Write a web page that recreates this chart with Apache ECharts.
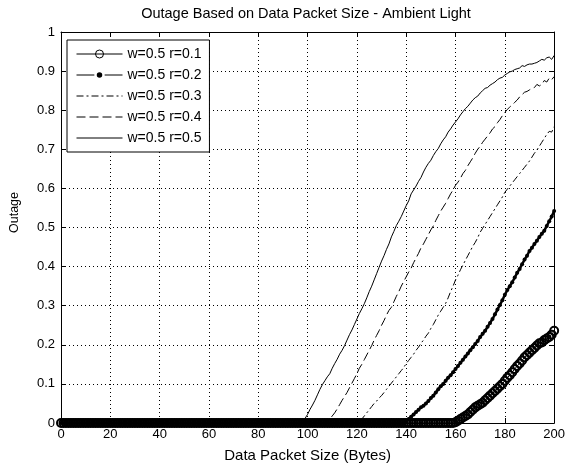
<!DOCTYPE html>
<html>
<head>
<meta charset="utf-8">
<title>Outage Based on Data Packet Size - Ambient Light</title>
<script src="https://cdn.jsdelivr.net/npm/echarts@6/dist/echarts.min.js"></script>
<style>
  html, body { margin: 0; padding: 0; background: #fff; }
  #chart { width: 568px; height: 468px; }
</style>
</head>
<body>
<div id="chart"></div>
<script>
// outage per packet size, one value per byte 0..200
const outageR01 = [
  0,0,0,0,0,0,0,0,0,0,0,0,0,0,0,0,0,0,0,0,
  0,0,0,0,0,0,0,0,0,0,0,0,0,0,0,0,0,0,0,0,
  0,0,0,0,0,0,0,0,0,0,0,0,0,0,0,0,0,0,0,0,
  0,0,0,0,0,0,0,0,0,0,0,0,0,0,0,0,0,0,0,0,
  0,0,0,0,0,0,0,0,0,0,0,0,0,0,0,0,0,0,0,0,
  0,0,0,0,0,0,0,0,0,0,0,0,0,0,0,0,0,0,0,0,
  0,0,0,0,0,0,0,0,0,0,0,0,0,0,0,0,0,0,0,0,
  0,0,0,0,0,0,0,0,0,0,0,0,0,0,0,0,0,0,0,0,
  0.002,0.006,0.010,0.014,0.018,0.022,0.028,0.034,0.040,0.044,
  0.048,0.052,0.058,0.064,0.070,0.076,0.082,0.088,0.094,0.100,
  0.108,0.116,0.122,0.130,0.138,0.146,0.152,0.160,0.168,0.174,
  0.180,0.186,0.192,0.198,0.204,0.206,0.212,0.216,0.220,0.226,
  0.236
]
const outageR02 = [
  0,0,0,0,0,0,0,0,0,0,0,0,0,0,0,0,0,0,0,0,
  0,0,0,0,0,0,0,0,0,0,0,0,0,0,0,0,0,0,0,0,
  0,0,0,0,0,0,0,0,0,0,0,0,0,0,0,0,0,0,0,0,
  0,0,0,0,0,0,0,0,0,0,0,0,0,0,0,0,0,0,0,0,
  0,0,0,0,0,0,0,0,0,0,0,0,0,0,0,0,0,0,0,0,
  0,0,0,0,0,0,0,0,0,0,0,0,0,0,0,0,0,0,0,0,
  0,0,0,0,0,0,0,0,0,0,0,0,0,0,0,0,0,0,0,0,
  0.004,0.010,0.016,0.022,0.028,0.034,0.040,0.044,0.050,0.056,
  0.064,0.070,0.078,0.086,0.094,0.100,0.108,0.116,0.122,0.130,
  0.138,0.146,0.154,0.162,0.170,0.178,0.186,0.194,0.202,0.210,
  0.220,0.228,0.236,0.246,0.256,0.266,0.278,0.290,0.302,0.314,
  0.328,0.340,0.350,0.360,0.372,0.384,0.394,0.406,0.418,0.428,
  0.440,0.448,0.458,0.466,0.476,0.484,0.492,0.504,0.516,0.528,
  0.542
]
const outageR03 = [
  0,0,0,0,0,0,0,0,0,0,0,0,0,0,0,0,0,0,0,0,
  0,0,0,0,0,0,0,0,0,0,0,0,0,0,0,0,0,0,0,0,
  0,0,0,0,0,0,0,0,0,0,0,0,0,0,0,0,0,0,0,0,
  0,0,0,0,0,0,0,0,0,0,0,0,0,0,0,0,0,0,0,0,
  0,0,0,0,0,0,0,0,0,0,0,0,0,0,0,0,0,0,0,0,
  0,0,0,0,0,0,0,0,0,0,0,0,0,0,0,0,0,0,0,0,
  0,
  0.004,0.010,0.018,0.026,0.034,0.042,0.050,0.056,0.064,0.070,
  0.078,0.086,0.094,0.102,0.110,0.118,0.126,0.134,0.142,0.152,
  0.160,0.168,0.176,0.186,0.194,0.204,0.212,0.222,0.230,0.242,
  0.252,0.264,0.276,0.286,0.296,0.306,0.320,0.336,0.350,0.366,
  0.378,0.392,0.404,0.416,0.428,0.440,0.452,0.462,0.474,0.488,
  0.498,0.508,0.518,0.528,0.538,0.548,0.558,0.568,0.578,0.590,
  0.598,0.606,0.614,0.622,0.630,0.638,0.646,0.654,0.662,0.670,
  0.680,0.690,0.698,0.708,0.718,0.728,0.738,0.746,0.744,0.758
]
const outageR04 = [
  0,0,0,0,0,0,0,0,0,0,0,0,0,0,0,0,0,0,0,0,
  0,0,0,0,0,0,0,0,0,0,0,0,0,0,0,0,0,0,0,0,
  0,0,0,0,0,0,0,0,0,0,0,0,0,0,0,0,0,0,0,0,
  0,0,0,0,0,0,0,0,0,0,0,0,0,0,0,0,0,0,0,0,
  0,0,0,0,0,0,0,0,0,0,0,0,0,0,0,0,0,0,0,0,
  0,0,0,0,0,0,0,0,
  0.004,0.010,0.018,0.026,0.036,0.047,0.058,0.068,0.078,0.090,
  0.102,0.114,0.126,0.140,0.150,0.162,0.174,0.186,0.198,0.212,
  0.224,0.236,0.250,0.262,0.276,0.288,0.296,0.310,0.324,0.336,
  0.350,0.362,0.374,0.386,0.396,0.410,0.422,0.434,0.448,0.458,
  0.470,0.482,0.494,0.504,0.518,0.530,0.542,0.552,0.562,0.574,
  0.586,0.596,0.608,0.616,0.626,0.638,0.646,0.658,0.668,0.678,
  0.690,0.700,0.708,0.718,0.726,0.734,0.742,0.752,0.758,0.768,
  0.776,0.786,0.794,0.802,0.808,0.814,0.820,0.826,0.834,0.840,
  0.846,0.848,0.852,0.856,0.858,0.866,0.862,0.866,0.876,0.872,
  0.882,0.878,0.886
]
const outageR05 = [
  0,0,0,0,0,0,0,0,0,0,0,0,0,0,0,0,0,0,0,0,
  0,0,0,0,0,0,0,0,0,0,0,0,0,0,0,0,0,0,0,0,
  0,0,0,0,0,0,0,0,0,0,0,0,0,0,0,0,0,0,0,0,
  0,0,0,0,0,0,0,0,0,0,0,0,0,0,0,0,0,0,0,0,
  0,0,0,0,0,0,0,0,0,0,0,0,0,0,0,0,0,0,
  0.005,0.012,0.022,0.035,0.046,0.058,0.072,0.086,0.098,0.108,
  0.118,0.126,0.140,0.152,0.163,0.176,0.186,0.198,0.212,0.226,
  0.238,0.252,0.266,0.280,0.292,0.305,0.320,0.336,0.350,0.366,
  0.382,0.398,0.414,0.428,0.444,0.458,0.476,0.490,0.505,0.516,
  0.528,0.542,0.556,0.568,0.586,0.596,0.606,0.618,0.628,0.642,
  0.654,0.664,0.672,0.684,0.694,0.702,0.714,0.724,0.732,0.744,
  0.752,0.762,0.770,0.778,0.788,0.796,0.804,0.810,0.818,0.826,
  0.832,0.836,0.844,0.850,0.856,0.858,0.864,0.868,0.872,0.878,
  0.882,0.884,0.890,0.894,0.898,0.900,0.904,0.906,0.908,0.914,
  0.912,0.916,0.918,0.918,0.920,0.922,0.926,0.930,0.928,0.934,
  0.936,0.930,0.940
]
const seriesNames = ['w=0.5 r=0.1', 'w=0.5 r=0.2', 'w=0.5 r=0.3', 'w=0.5 r=0.4', 'w=0.5 r=0.5']

const allSeries = [outageR01, outageR02, outageR03, outageR04, outageR05]
allSeries.forEach((s, i) => {
  if (s.length !== 201) throw new Error(seriesNames[i] + ' has ' + s.length + ' points')
})

const font = 'Liberation Sans, Arial, sans-serif'
// x is the packet size in bytes, i.e. the index
const toPairs = arr => arr.map((v, i) => [i, v])

const baseLine = (name, arr, extra) => Object.assign({
  name,
  type: 'line',
  data: toPairs(arr),
  symbol: 'none',
  clip: false,
  lineStyle: { color: '#000', width: 1 },
  itemStyle: { color: '#000' },
  emphasis: { disabled: true }
}, extra)

// legend entries: only the first two show a marker
const legendData = seriesNames.map((name, i) => {
  if (i === 0) return { name, itemStyle: { borderWidth: 1 } }
  if (i === 1) return { name, itemStyle: { borderWidth: 2.5, borderColor: '#fff' } }
  return { name, itemStyle: { opacity: 0 } }
})

const chart = echarts.init(document.getElementById('chart'), null, { renderer: 'canvas' })

const option = {
  animation: false,
  backgroundColor: '#fff',
  title: {
    text: 'Outage Based on Data Packet Size - Ambient Light',
    left: 301,
    top: 1,
    textAlign: 'center',
    textStyle: { fontFamily: font, fontSize: 14.5, fontWeight: 'normal', color: '#000' }
  },
  legend: {
    orient: 'vertical',
    left: 67,
    top: 40,
    itemWidth: 46,
    itemHeight: 10,
    itemGap: 7,
    padding: [7, 8, 7, 9],
    backgroundColor: '#fff',
    borderColor: '#000',
    borderWidth: 1,
    borderRadius: 0,
    lineStyle: { width: 1 },
    textStyle: { fontFamily: font, fontSize: 14, color: '#000' },
    data: legendData
  },
  grid: { left: 60, right: 12, top: 32, bottom: 45, containLabel: false },
  xAxis: [{
    type: 'value',
    min: 0, max: 200, interval: 20,
    position: 'bottom',
    name: 'Data Packet Size (Bytes)',
    nameLocation: 'middle',
    nameGap: 25,
    nameTextStyle: { fontFamily: font, fontSize: 15, color: '#000' },
    axisLine: { onZero: false, lineStyle: { color: '#000', width: 1 } },
    axisTick: { inside: true, length: 5, lineStyle: { color: '#000' } },
    axisLabel: { fontFamily: font, fontSize: 13, color: '#000', margin: 5 },
    splitLine: { show: true, lineStyle: { color: '#000', width: 1, type: [1, 3] } }
  }, {
    type: 'value',
    min: 0, max: 200, interval: 20,
    position: 'top',
    axisLine: { onZero: false, lineStyle: { color: '#000', width: 1 } },
    axisTick: { inside: true, length: 5, lineStyle: { color: '#000' } },
    axisLabel: { show: false },
    splitLine: { show: false }
  }],
  yAxis: [{
    type: 'value',
    min: 0, max: 1, interval: 0.1,
    position: 'left',
    name: 'Outage',
    nameLocation: 'middle',
    nameGap: 40,
    nameTextStyle: { fontFamily: font, fontSize: 12.5, color: '#000', padding: [0, 0, 0, 30] },
    axisLine: { onZero: false, lineStyle: { color: '#000', width: 1 } },
    axisTick: { inside: true, length: 5, lineStyle: { color: '#000' } },
    axisLabel: { fontFamily: font, fontSize: 13, color: '#000', margin: 6 },
    splitLine: { show: true, lineStyle: { color: '#000', width: 1, type: [1, 3] } }
  }, {
    type: 'value',
    min: 0, max: 1, interval: 0.1,
    position: 'right',
    axisLine: { onZero: false, lineStyle: { color: '#000', width: 1 } },
    axisTick: { inside: true, length: 5, lineStyle: { color: '#000' } },
    axisLabel: { show: false },
    splitLine: { show: false }
  }],
  series: [
    baseLine(seriesNames[0], outageR01, {
      symbol: 'circle',
      symbolSize: 8,
      showSymbol: true,
      itemStyle: { color: 'rgba(0,0,0,0)', borderColor: '#000', borderWidth: 2 }
    }),
    baseLine(seriesNames[1], outageR02, {
      symbol: 'circle',
      symbolSize: 4,
      showSymbol: true,
      lineStyle: { color: '#000', width: 2.5 },
      itemStyle: { color: '#000' }
    }),
    baseLine(seriesNames[2], outageR03, {
      lineStyle: { color: '#000', width: 1, type: [7, 3, 2, 3] }
    }),
    baseLine(seriesNames[3], outageR04, {
      lineStyle: { color: '#000', width: 1, type: [9, 4] }
    }),
    baseLine(seriesNames[4], outageR05, {})
  ]
}

chart.setOption(option)
</script>
</body>
</html>
